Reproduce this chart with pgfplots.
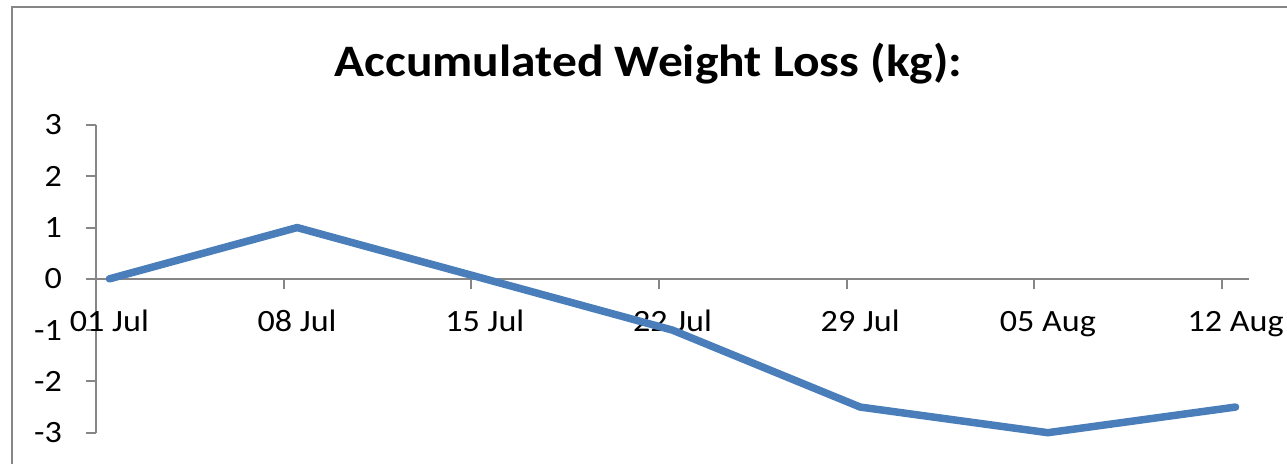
\documentclass[border=0pt]{standalone}
\usepackage{fontspec}
\setmainfont{Carlito}[FakeStretch=1.1]
\usepackage{pgfplots}
\pgfplotsset{compat=1.18}
\definecolor{linecol}{HTML}{4A7EBB}
\definecolor{axcol}{HTML}{868686}
\begin{document}
\begin{tikzpicture}
\useasboundingbox (0,0) rectangle (1287bp,464bp);
\begin{scope}
\clip (0,0) rectangle (1287bp,464bp);
\draw[axcol, line width=2bp] (11.5bp,-20bp) rectangle (1320bp,456.5bp);
\end{scope}
\node[anchor=base, inner sep=0pt, font=\fontsize{45bp}{52bp}\selectfont\bfseries] at (648.5bp,387.5bp) {Accumulated Weight Loss (kg):};
\begin{axis}[
 at={(96bp,31.3bp)}, anchor=south west,
 scale only axis, width=1153bp, height=307.7bp,
 xmin=0, xmax=43, ymin=-3, ymax=3,
 clip=false,
 axis x line*=middle, axis y line*=left,
 hide obscured x ticks=false, hide obscured y ticks=false,
 axis line style={axcol, line width=2bp},
 xtick={0,7,14,21,28,35,42},
 xticklabels={01 Jul,08 Jul,15 Jul,22 Jul,29 Jul,05 Aug,12 Aug},
 ytick={-3,-2,-1,0,1,2,3}, yticklabels={-3,-2,-1,0,1,2,3},
 tick style={axcol, line width=2bp},
 tick align=outside, major tick length=10bp,
 ticklabel style={font=\fontsize{31bp}{37bp}\selectfont, text=black},
 xticklabel style={anchor=base, inner sep=0pt, xshift=13.4bp, yshift=-43bp},
 yticklabel style={anchor=east, inner sep=0pt, xshift=-24bp},
]
\addplot[linecol, line width=7.5bp, line cap=round, line join=round] coordinates {(0.5,0) (7.5,1) (14.5,0) (21.5,-1) (28.5,-2.5) (35.5,-3) (42.5,-2.5)};
\end{axis}
\end{tikzpicture}
\end{document}
